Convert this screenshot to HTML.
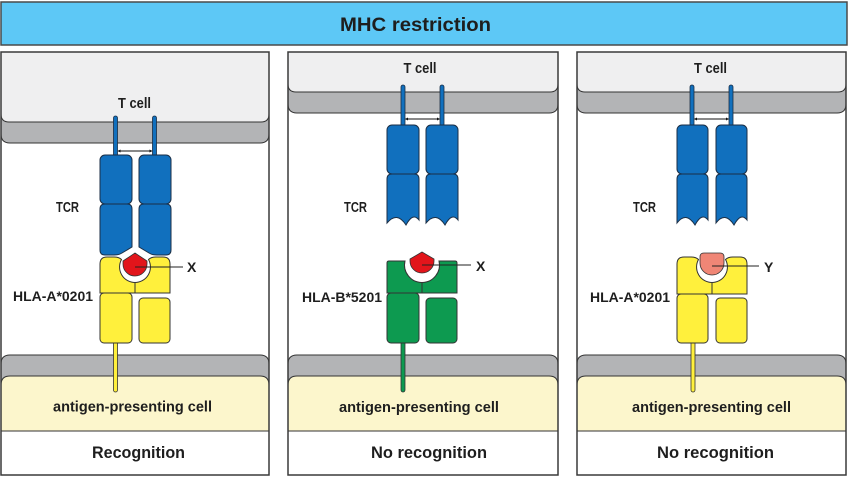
<!DOCTYPE html>
<html>
<head>
<meta charset="utf-8">
<style>
  html,body{margin:0;padding:0;background:#fff;}
  svg{display:block;}
  text{font-family:"Liberation Sans",Arial,sans-serif;font-weight:bold;fill:#1e1e1e;}
</style>
</head>
<body>
<svg width="848" height="478" viewBox="0 0 848 478" xmlns="http://www.w3.org/2000/svg">
  <rect width="848" height="478" fill="#fff"/>
  <!-- Title -->
  <rect x="1" y="2" width="846" height="43" fill="#5dc8f6" stroke="#4a4a4a" stroke-width="1.5"/>
  <text x="415.5" y="31" text-anchor="middle" font-size="19.5" textLength="151" lengthAdjust="spacingAndGlyphs">MHC restriction</text>

  <!-- ================= PANEL 1 ================= -->
  <g transform="translate(1,0)">
    <rect x="0" y="52" width="268" height="423" fill="#fff"/>
    <path d="M0,100 V134 Q0,143 9,143 H259 Q268,143 268,134 V100 Z" fill="#b3b4b6" stroke="#333" stroke-width="1"/>
    <path d="M0,52 V114 Q0,122 8,122 H260 Q268,122 268,114 V52 Z" fill="#efeff0" stroke="#333" stroke-width="1"/>
    <path d="M0,400 V364 Q0,355 9,355 H259 Q268,355 268,364 V400 Z" fill="#b3b4b6" stroke="#333" stroke-width="1"/>
    <path d="M0,431 V385 Q0,376 9,376 H259 Q268,376 268,385 V431 Z" fill="#fcf6cc" stroke="#333" stroke-width="1"/>
    <line x1="0" y1="431" x2="268" y2="431" stroke="#333" stroke-width="1"/>

    <!-- TCR stalks -->
    <rect x="112.5" y="116" width="4" height="41" rx="2" fill="#1170be" stroke="#1b2e45" stroke-width="0.8"/>
    <rect x="151.5" y="116" width="4" height="41" rx="2" fill="#1170be" stroke="#1b2e45" stroke-width="0.8"/>
    <line x1="117" y1="151" x2="151" y2="151" stroke="#111" stroke-width="1"/>
    <polygon points="116.5,151 119.5,149.5 119.5,152.5" fill="#111"/>
    <polygon points="151.5,151 148.5,149.5 148.5,152.5" fill="#111"/>
    <!-- TCR blocks -->
    <rect x="99" y="155" width="32" height="49" rx="5" fill="#1170be" stroke="#1b2e45" stroke-width="1"/>
    <rect x="138" y="155" width="32" height="49" rx="5" fill="#1170be" stroke="#1b2e45" stroke-width="1"/>
    <path d="M99,209 Q99,204 104,204 H126 Q131,204 131,209 V247 L121,253 Q118,255 113,255 H104 Q99,255 99,250 Z" fill="#1170be" stroke="#1b2e45" stroke-width="1"/>
    <path d="M170,209 Q170,204 165,204 H143 Q138,204 138,209 V247 L148,253 Q151,255 156,255 H165 Q170,255 170,250 Z" fill="#1170be" stroke="#1b2e45" stroke-width="1"/>

    <!-- MHC -->
    <rect x="112.5" y="338" width="4" height="54" rx="2" fill="#fff03c" stroke="#333" stroke-width="0.8"/>
    <rect x="99" y="293" width="32" height="50" rx="4" fill="#fff03c" stroke="#333" stroke-width="1"/>
    <rect x="138" y="298" width="31" height="45" rx="4" fill="#fff03c" stroke="#333" stroke-width="1"/>
    <path d="M99,293 V264 Q99,257 106,257 H113 Q118,257 120.5,259.5 A15.5,15.5 0 0 0 134,282.5 V293 Z" fill="#fff03c" stroke="#333" stroke-width="1"/>
    <path d="M169,293 V264 Q169,257 162,257 H155 Q150,257 147.5,259.5 A15.5,15.5 0 0 1 134,282.5 V293 Z" fill="#fff03c" stroke="#333" stroke-width="1"/>
    <!-- peptide X -->
    <path d="M134,253 L146,261 V264 A12,12 0 0 1 122,264 V261 Z" fill="#e2151b" stroke="#333" stroke-width="0.8"/>
    <line x1="134" y1="267" x2="182" y2="267" stroke="#222" stroke-width="1"/>
    <text x="186" y="272" font-size="14">X</text>

    <text x="133.5" y="108" text-anchor="middle" font-size="14.5" textLength="33" lengthAdjust="spacingAndGlyphs">T cell</text>
    <text x="78" y="212" text-anchor="end" font-size="14.5" textLength="23" lengthAdjust="spacingAndGlyphs">TCR</text>
    <text x="92" y="301" text-anchor="end" font-size="14" textLength="80" lengthAdjust="spacingAndGlyphs">HLA-A*0201</text>
    <text x="131.5" y="411.5" text-anchor="middle" font-size="14.5" textLength="159" lengthAdjust="spacingAndGlyphs">antigen-presenting cell</text>
    <text x="137.5" y="458" text-anchor="middle" font-size="16.5" textLength="93" lengthAdjust="spacingAndGlyphs">Recognition</text>

    <rect x="0" y="52" width="268" height="423" fill="none" stroke="#3a3a3a" stroke-width="1.5"/>
  </g>

  <!-- ================= PANEL 2 ================= -->
  <g transform="translate(288,0)">
    <rect x="0" y="52" width="270" height="423" fill="#fff"/>
    <path d="M0,70 V104 Q0,113 9,113 H261 Q270,113 270,104 V70 Z" fill="#b3b4b6" stroke="#333" stroke-width="1"/>
    <path d="M0,52 V84 Q0,92 8,92 H262 Q270,92 270,84 V52 Z" fill="#efeff0" stroke="#333" stroke-width="1"/>
    <path d="M0,400 V364 Q0,355 9,355 H261 Q270,355 270,364 V400 Z" fill="#b3b4b6" stroke="#333" stroke-width="1"/>
    <path d="M0,431 V385 Q0,376 9,376 H261 Q270,376 270,385 V431 Z" fill="#fcf6cc" stroke="#333" stroke-width="1"/>
    <line x1="0" y1="431" x2="270" y2="431" stroke="#333" stroke-width="1"/>

    <rect x="113" y="85" width="4" height="42" rx="2" fill="#1170be" stroke="#1b2e45" stroke-width="0.8"/>
    <rect x="152" y="85" width="4" height="42" rx="2" fill="#1170be" stroke="#1b2e45" stroke-width="0.8"/>
    <line x1="117.5" y1="119" x2="151.5" y2="119" stroke="#111" stroke-width="1"/>
    <polygon points="117,119 120,117.5 120,120.5" fill="#111"/>
    <polygon points="152,119 149,117.5 149,120.5" fill="#111"/>
    <rect x="99" y="125" width="32" height="49" rx="5" fill="#1170be" stroke="#1b2e45" stroke-width="1"/>
    <rect x="138" y="125" width="32" height="49" rx="5" fill="#1170be" stroke="#1b2e45" stroke-width="1"/>
    <path d="M99,179 Q99,174 104,174 H126 Q131,174 131,179 V220 Q125,212 118,225 Q109,211 99,223 Z" fill="#1170be" stroke="#1b2e45" stroke-width="1"/>
    <path d="M138,179 Q138,174 143,174 H165 Q170,174 170,179 V220 Q164,212 157,225 Q148,211 138,223 Z" fill="#1170be" stroke="#1b2e45" stroke-width="1"/>

    <rect x="113" y="338" width="4" height="54" rx="2" fill="#0d9a50" stroke="#333" stroke-width="0.8"/>
    <rect x="99" y="293" width="32" height="50" rx="4" fill="#0d9a50" stroke="#333" stroke-width="1"/>
    <rect x="138" y="298" width="31" height="45" rx="4" fill="#0d9a50" stroke="#333" stroke-width="1"/>
    <path d="M99,293 V263 Q99,261 101,261 H117 A17.5,17.5 0 0 0 134,282.5 V293 Z" fill="#0d9a50" stroke="#333" stroke-width="1"/>
    <path d="M169,293 V263 Q169,261 167,261 H151 A17.5,17.5 0 0 1 134,282.5 V293 Z" fill="#0d9a50" stroke="#333" stroke-width="1"/>
    <path d="M134,252 L146,259 V261 A12,12 0 0 1 122,261 V259 Z" fill="#e2151b" stroke="#333" stroke-width="0.8"/>
    <line x1="134" y1="265" x2="183" y2="265" stroke="#222" stroke-width="1"/>
    <text x="188" y="271" font-size="14">X</text>

    <text x="132" y="73" text-anchor="middle" font-size="14.5" textLength="33" lengthAdjust="spacingAndGlyphs">T cell</text>
    <text x="79" y="212" text-anchor="end" font-size="14.5" textLength="23" lengthAdjust="spacingAndGlyphs">TCR</text>
    <text x="94" y="302" text-anchor="end" font-size="14" textLength="80" lengthAdjust="spacingAndGlyphs">HLA-B*5201</text>
    <text x="131" y="412" text-anchor="middle" font-size="14.5" textLength="160" lengthAdjust="spacingAndGlyphs">antigen-presenting cell</text>
    <text x="141" y="458" text-anchor="middle" font-size="16.5" textLength="116" lengthAdjust="spacingAndGlyphs">No  recognition</text>

    <rect x="0" y="52" width="270" height="423" fill="none" stroke="#3a3a3a" stroke-width="1.5"/>
  </g>

  <!-- ================= PANEL 3 ================= -->
  <g transform="translate(577,0)">
    <rect x="0" y="52" width="269" height="423" fill="#fff"/>
    <path d="M0,70 V104 Q0,113 9,113 H260 Q269,113 269,104 V70 Z" fill="#b3b4b6" stroke="#333" stroke-width="1"/>
    <path d="M0,52 V84 Q0,92 8,92 H261 Q269,92 269,84 V52 Z" fill="#efeff0" stroke="#333" stroke-width="1"/>
    <path d="M0,400 V364 Q0,355 9,355 H260 Q269,355 269,364 V400 Z" fill="#b3b4b6" stroke="#333" stroke-width="1"/>
    <path d="M0,431 V385 Q0,376 9,376 H260 Q269,376 269,385 V431 Z" fill="#fcf6cc" stroke="#333" stroke-width="1"/>
    <line x1="0" y1="431" x2="269" y2="431" stroke="#333" stroke-width="1"/>

    <rect x="113" y="85" width="4" height="42" rx="2" fill="#1170be" stroke="#1b2e45" stroke-width="0.8"/>
    <rect x="152" y="85" width="4" height="42" rx="2" fill="#1170be" stroke="#1b2e45" stroke-width="0.8"/>
    <line x1="117.5" y1="119" x2="151.5" y2="119" stroke="#111" stroke-width="1"/>
    <polygon points="117,119 120,117.5 120,120.5" fill="#111"/>
    <polygon points="152,119 149,117.5 149,120.5" fill="#111"/>
    <rect x="100" y="125" width="31" height="49" rx="5" fill="#1170be" stroke="#1b2e45" stroke-width="1"/>
    <rect x="139" y="125" width="31" height="49" rx="5" fill="#1170be" stroke="#1b2e45" stroke-width="1"/>
    <path d="M100,179 Q100,174 105,174 H126 Q131,174 131,179 V220 Q125,212 118,225 Q109,211 100,223 Z" fill="#1170be" stroke="#1b2e45" stroke-width="1"/>
    <path d="M139,179 Q139,174 144,174 H165 Q170,174 170,179 V220 Q164,212 157,225 Q148,211 139,223 Z" fill="#1170be" stroke="#1b2e45" stroke-width="1"/>

    <rect x="114" y="338" width="4" height="54" rx="2" fill="#fff03c" stroke="#333" stroke-width="0.8"/>
    <rect x="100" y="294" width="31" height="49" rx="4" fill="#fff03c" stroke="#333" stroke-width="1"/>
    <rect x="139" y="298" width="31" height="45" rx="4" fill="#fff03c" stroke="#333" stroke-width="1"/>
    <path d="M100,294 V264 Q100,257 107,257 H114 Q119,257 121.5,259.5 A15.5,15.5 0 0 0 135,282.5 V294 Z" fill="#fff03c" stroke="#333" stroke-width="1"/>
    <path d="M170,294 V264 Q170,257 163,257 H156 Q151,257 148.5,259.5 A15.5,15.5 0 0 1 135,282.5 V294 Z" fill="#fff03c" stroke="#333" stroke-width="1"/>
    <path d="M123,257 Q123,253 127,253 H143 Q147,253 147,257 V263 A12,12 0 0 1 123,263 Z" fill="#f08676" stroke="#333" stroke-width="0.8"/>
    <line x1="135" y1="266" x2="182" y2="266" stroke="#222" stroke-width="1"/>
    <text x="187" y="272" font-size="14">Y</text>

    <text x="133.5" y="73" text-anchor="middle" font-size="14.5" textLength="33" lengthAdjust="spacingAndGlyphs">T cell</text>
    <text x="79" y="212" text-anchor="end" font-size="14.5" textLength="23" lengthAdjust="spacingAndGlyphs">TCR</text>
    <text x="93" y="302" text-anchor="end" font-size="14" textLength="80" lengthAdjust="spacingAndGlyphs">HLA-A*0201</text>
    <text x="134.5" y="412" text-anchor="middle" font-size="14.5" textLength="159" lengthAdjust="spacingAndGlyphs">antigen-presenting cell</text>
    <text x="138.5" y="458" text-anchor="middle" font-size="16.5" textLength="117" lengthAdjust="spacingAndGlyphs">No  recognition</text>

    <rect x="0" y="52" width="269" height="423" fill="none" stroke="#3a3a3a" stroke-width="1.5"/>
  </g>
</svg>
</body>
</html>
